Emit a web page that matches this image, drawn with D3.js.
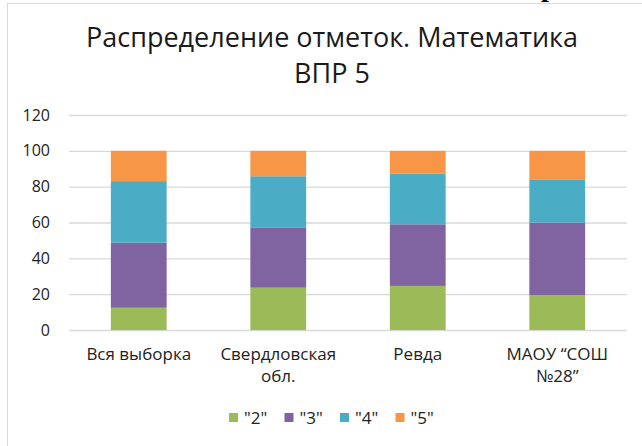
<!DOCTYPE html>
<html><head><meta charset="utf-8">
<script src="https://cdn.jsdelivr.net/npm/d3@7"></script>
<style>body{margin:0;background:#fff}svg{display:block}</style>
</head><body>
<svg id="c" width="642" height="446"></svg>
<script>
const categories = ["Вся выборка", "Свердловская\nобл.", "Ревда", "МАОУ “СОШ\n№28”"];
const seriesNames = ["\"2\"", "\"3\"", "\"4\"", "\"5\""];
const s2 = [12.4, 23.6, 24.6, 19.4];
const s3 = [36.3, 33.7, 34.4, 40.5];
const s4 = [34.4, 28.5, 28.4, 24.2];
const s5 = [16.9, 14.2, 12.6, 15.9];
const yTicks = [0, 20, 40, 60, 80, 100, 120];
const colors = ["#9BBB59", "#8064A2", "#4BACC6", "#F79646"];
const titleLines = ["Распределение отметок. Математика", "ВПР 5"];

const svg = d3.select("#c");
const F = "'Open Sans', 'Noto Sans', sans-serif";

svg.append("rect").attr("width", 642).attr("height", 446).attr("fill", "#fff");
// stray text fragment from the document above the chart
svg.append("text").attr("x", 541).attr("y", -4).attr("font-family", "'Liberation Serif', serif")
  .attr("font-weight", "bold").attr("font-size", 28).attr("fill", "#000").text("р");
svg.append("rect").attr("x", 7.5).attr("y", 3.5).attr("width", 700).attr("height", 500)
  .attr("fill", "#fff").attr("stroke", "#D9D9D9");

const x = d3.scaleBand().domain(categories).range([69, 627]).paddingInner(0.6).paddingOuter(0.3);
const y = d3.scaleLinear().domain([0, 120]).range([330, 115]);

// title
svg.append("g").selectAll("text").data(titleLines).join("text")
  .attr("x", 332).attr("y", (d, i) => 47 + i * 36)
  .attr("text-anchor", "middle").attr("font-family", F).attr("font-size", 27)
  .attr("fill", "#1a1a1a").text(d => d);

// y axis with gridlines
const ya = svg.append("g").attr("transform", "translate(69,0)")
  .call(d3.axisLeft(y).tickValues(yTicks).tickSize(-558).tickPadding(19));
ya.select(".domain").remove();
ya.selectAll(".tick line").attr("stroke", "#D9D9D9").attr("stroke-width", 1.3);
ya.selectAll(".tick text").attr("font-family", F).attr("font-size", 16).attr("fill", "#222");

// stacked bars
const rows = categories.map((c, i) => ({cat: c, s0: s2[i], s1: s3[i], s2: s4[i], s3: s5[i]}));
const stack = d3.stack().keys(["s0", "s1", "s2", "s3"])(rows);
svg.append("g").selectAll("g").data(stack).join("g")
  .attr("fill", (d, i) => colors[i])
  .selectAll("rect").data(d => d).join("rect")
  .attr("x", d => x(d.data.cat)).attr("width", x.bandwidth())
  .attr("y", d => y(d[1])).attr("height", d => y(d[0]) - y(d[1]));

// category labels
const xl = svg.append("g").selectAll("text").data(categories).join("text")
  .attr("x", d => x(d) + x.bandwidth() / 2).attr("y", 360)
  .attr("text-anchor", "middle").attr("font-family", F).attr("font-size", 17).attr("fill", "#222");
xl.selectAll("tspan").data(d => d.split("\n").map(t => ({t, cx: x(d) + x.bandwidth() / 2}))).join("tspan")
  .attr("x", d => d.cx).attr("dy", (d, i) => i ? 22 : 0).text(d => d.t);

// legend
const lg = svg.append("g").selectAll("g").data(seriesNames).join("g")
  .attr("transform", (d, i) => `translate(${229 + i * 55.5},0)`);
lg.append("rect").attr("x", 0).attr("y", 413).attr("width", 9).attr("height", 9).attr("fill", (d, i) => colors[i]);
lg.append("text").attr("x", 15).attr("y", 424).attr("font-family", F).attr("font-size", 17)
  .attr("fill", "#222").text(d => d);
</script>
</body></html>
